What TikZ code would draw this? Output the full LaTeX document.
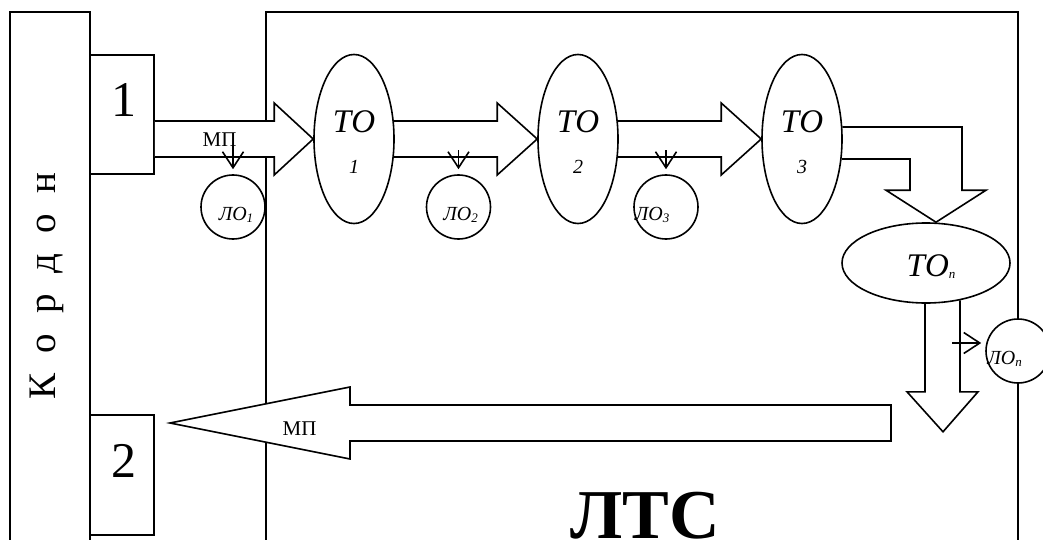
\documentclass[tikz,border=0pt]{standalone}
\usepackage{fontspec}
\setmainfont{Liberation Serif}
\usetikzlibrary{arrows.meta,calc,shapes.geometric}
\pgfdeclarelayer{back}
\pgfdeclarelayer{mid}
\pgfsetlayers{back,mid,main}
\newcommand\sbs[1]{\raisebox{-2pt}{\fontsize{13}{13}\selectfont #1}}
\begin{document}
\begin{tikzpicture}[x=1pt,y=-1pt,line width=1.6pt,
  box/.style={draw,rectangle,inner sep=0pt,line width=1.6pt},
  oval/.style={draw,ellipse,inner sep=0pt,fill=white,line width=1.6pt},
  lo/.style={draw,circle,minimum size=64pt,inner sep=0pt,fill=white,line width=1.6pt},
  blockarrow/.style={draw,fill=white,line join=miter,line width=1.6pt},
  smallarrow/.style={line width=1.6pt,-{Straight Barb[length=16pt,width=21pt]}},
  totext/.style={anchor=base,font=\fontsize{33}{33}\selectfont\itshape},
  numtext/.style={anchor=base,font=\fontsize{20}{20}\selectfont\itshape},
  lotext/.style={anchor=base,font=\fontsize{20}{20}\selectfont\itshape},
  mptext/.style={anchor=base,font=\fontsize{21}{21}\selectfont},
  bignum/.style={anchor=base,font=\fontsize{50}{50}\selectfont}
]
\useasboundingbox (0,0) rectangle (1043,540);
\begin{pgfonlayer}{back}
\fill[white] (0,0) rectangle (1043,540);
\node[box,minimum width=80pt,minimum height=548pt] (K) at (50,286) {};
\node[box,minimum width=64pt,minimum height=119pt] (B1) at (122,114.5) {};
\node[box,minimum width=64pt,minimum height=120pt] (B2) at (122,475) {};
\node[box,minimum width=752pt,minimum height=548pt] (L) at (642,286) {};
\end{pgfonlayer}

\node[rotate=90,anchor=base,font=\fontsize{39}{39}\selectfont] (Ktext) at (55,286) {\spaceskip=20.5pt К о р д о н};
\node[bignum] (n1) at (123.5,117) {1};
\node[bignum] (n2) at (124,477) {2};
\node[anchor=base,font=\fontsize{70}{70}\selectfont\bfseries] (Ltext) at (645.5,538) {ЛТС};

\node[oval,minimum width=80pt,minimum height=169pt] (TO1) at (354,139) {};
\node[oval,minimum width=80pt,minimum height=169pt] (TO2) at (578,139) {};
\node[oval,minimum width=80pt,minimum height=169pt] (TO3) at (802,139) {};
\node[oval,minimum width=168pt,minimum height=80pt] (TOn) at (926,263) {};

\node[totext] (t1) at ($(TO1)+(0,-6)$) {ТО};
\node[numtext] (d1) at ($(TO1)+(0,35)$) {1};
\node[totext] (t2) at ($(TO2)+(0,-6)$) {ТО};
\node[numtext] (d2) at ($(TO2)+(0,35)$) {2};
\node[totext] (t3) at ($(TO3)+(0,-6)$) {ТО};
\node[numtext] (d3) at ($(TO3)+(0,35)$) {3};
\node[totext] (tn) at ($(TOn)+(5,13)$) {ТО\sbs{n}};

\node[lo] (LO1) at (233,207) {};
\node[lo] (LO2) at (458.5,207) {};
\node[lo] (LO3) at (666,207) {};
\node[lo] (LOn) at (1018,351) {};
\node[lotext] (l1) at (236,220) {ЛО\sbs{1}};
\node[lotext] (l2) at (460.5,220) {ЛО\sbs{2}};
\node[lotext] (l3) at (652,220) {ЛО\sbs{3}};
\node[lotext] (ln) at (1004.5,364) {ЛО\sbs{n}};

\coordinate (t4) at ($(TOn.north)+(10,0)$);
\coordinate (t5) at ($(TOn.south)+(17,128)$);
\coordinate (rtip) at (170,423);
\coordinate (rend) at (891,423);

\begin{pgfonlayer}{mid}
\draw[blockarrow] ($(B1.east |- TO1.west)+(0,-18)$) -- ($(TO1.west)+(-39,-18)$) -- ($(TO1.west)+(-39,-36)$) -- (TO1.west) -- ($(TO1.west)+(-39,36)$) -- ($(TO1.west)+(-39,18)$) -- ($(B1.east |- TO1.west)+(0,18)$);
\draw[blockarrow] ($(TO1.east)+(-1,-18)$) -- ($(TO2.west)+(-40,-18)$) -- ($(TO2.west)+(-40,-36)$) -- (TO2.west) -- ($(TO2.west)+(-40,36)$) -- ($(TO2.west)+(-40,18)$) -- ($(TO1.east)+(-1,18)$);
\draw[blockarrow] ($(TO2.east)+(-1,-18)$) -- ($(TO3.west)+(-40,-18)$) -- ($(TO3.west)+(-40,-36)$) -- (TO3.west) -- ($(TO3.west)+(-40,36)$) -- ($(TO3.west)+(-40,18)$) -- ($(TO2.east)+(-1,18)$);
\draw[blockarrow] ($(TO3.east)+(-0.4,-12)$) -- ($(t4 |- TO3.east)+(26,-12)$) -- ($(t4)+(26,-32)$) -- ($(t4)+(50,-32)$) -- (t4) -- ($(t4)+(-50,-32)$) -- ($(t4)+(-26,-32)$) -- ($(t4 |- TO3.east)+(-26,20)$) -- ($(TO3.east)+(-1,20)$);
\draw[blockarrow] ($(TOn.south)+(-1,0)$) -- ($(t5)+(-18,-40)$) -- ($(t5)+(-36,-40)$) -- (t5) -- ($(t5)+(35,-40)$) -- ($(t5)+(17,-40)$) -- ($(TOn.south)+(34,-3.4)$);
\draw[blockarrow] ($(rend)+(0,-18)$) -- ($(rtip)+(180,-18)$) -- ($(rtip)+(180,-36)$) -- (rtip) -- ($(rtip)+(180,36)$) -- ($(rtip)+(180,18)$) -- ($(rend)+(0,18)$) -- cycle;
\end{pgfonlayer}

\node[mptext] (mp1) at (219.5,147) {МП};
\node[mptext] (mp2) at (299.5,435) {МП};

\draw[smallarrow] ($(LO1.north)+(0,-29)$) -- ($(LO1.north)+(0,-5)$);
\draw[smallarrow] ($(LO2.north)+(0,-24)$) -- ($(LO2.north)+(0,-5)$);
\draw[smallarrow] ($(LO3.north)+(0,-24)$) -- ($(LO3.north)+(0,-5)$);
\draw[smallarrow] ($(LOn.west)+(-33,-8)$) -- ($(LOn.west)+(-4,-8)$);
\end{tikzpicture}
\end{document}
